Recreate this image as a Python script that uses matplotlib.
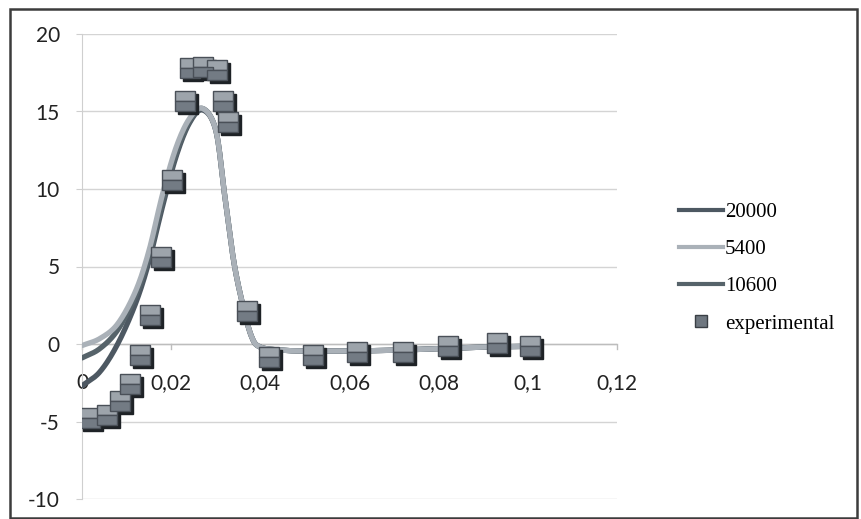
import numpy as np
import matplotlib
matplotlib.use("Agg")
import matplotlib.pyplot as plt
from matplotlib.transforms import offset_copy
from matplotlib.lines import Line2D
from matplotlib.patches import Rectangle

# measured points
exp_x = [0.0018, 0.0056, 0.0085, 0.0108, 0.0130, 0.0152, 0.0177, 0.0202, 0.0231,
         0.0243, 0.0271, 0.0302, 0.0316, 0.0327, 0.0370, 0.0419, 0.0518, 0.0617,
         0.0720, 0.0820, 0.0930, 0.1005]
exp_y = [-4.8, -4.6, -3.7, -2.6, -0.7, 1.9, 5.6, 10.6, 15.7,
         17.8, 17.9, 17.7, 15.7, 14.3, 2.1, -0.85, -0.7, -0.5,
         -0.5, -0.15, 0.05, -0.15]

# model curves
model_x = [0.0, 0.004, 0.008, 0.012, 0.015, 0.018, 0.021, 0.024, 0.027, 0.030,
           0.032, 0.034, 0.036, 0.038, 0.040, 0.045, 0.05, 0.06, 0.07, 0.08,
           0.09, 0.1]
tail = [13.8, 9.6, 5.4, 2.6, 0.5, -0.2, -0.4, -0.45, -0.45, -0.4, -0.3, -0.2, -0.15]
y_20000 = [-2.7, -1.8, 0.0, 2.6, 5.3, 8.8, 12.0, 14.2, 15.1] + tail
y_5400 = [-0.1, 0.35, 1.3, 3.4, 6.0, 9.6, 12.6, 14.5, 15.2] + tail
y_10600 = [-0.9, -0.3, 0.9, 3.1, 5.6, 9.1, 12.2, 14.3, 15.2] + tail

x_ticks = [0, 0.02, 0.04, 0.06, 0.08, 0.1, 0.12]
x_tick_labels = ["0", "0,02", "0,04", "0,06", "0,08", "0,1", "0,12"]
y_ticks = [-10, -5, 0, 5, 10, 15, 20]
y_tick_labels = ["-10", "-5", "0", "5", "10", "15", "20"]


def smooth(xs, ys, n=20):
    """Catmull-Rom smoothing through the given points."""
    p = np.column_stack([xs, ys]).astype(float)
    p = np.vstack([p[0] * 2 - p[1], p, p[-1] * 2 - p[-2]])
    out = []
    t = np.linspace(0, 1, n, endpoint=False)[:, None]
    for i in range(1, len(p) - 2):
        p0, p1, p2, p3 = p[i - 1], p[i], p[i + 1], p[i + 2]
        seg = 0.5 * ((2 * p1) + (-p0 + p2) * t + (2 * p0 - 5 * p1 + 4 * p2 - p3) * t ** 2
                     + (-p0 + 3 * p1 - 3 * p2 + p3) * t ** 3)
        out.append(seg)
    out.append(p[-2][None, :])
    out = np.vstack(out)
    return out[:, 0], out[:, 1]


W, H = 862, 519
fig = plt.figure(figsize=(W / 100, H / 100), dpi=100)
ax = fig.add_axes([82 / W, (H - 499) / H, (617 - 82) / W, (499 - 34) / H])

tick_font = "Lato"
legend_font = "Liberation Serif"
tick_size = 15

c20000 = "#4d5862"
c5400 = "#aab1b8"
c10600 = "#56636a"

for ys, col, lab, z in [(y_20000, c20000, "20000", 3),
                        (y_10600, c10600, "10600", 3),
                        (y_5400, c5400, "5400", 4)]:
    sx, sy = smooth(model_x, ys)
    ax.plot(sx, sy, color=col, lw=3.8, solid_capstyle="round", zorder=z, label=lab)

# shadowed two-tone square markers
shadow = offset_copy(ax.transData, fig=fig, x=3, y=-3, units="dots")
ax.plot(exp_x, exp_y, ls="none", marker="s", ms=14.5, mfc="#1e2226", mec="#1e2226",
        transform=shadow, zorder=5)
ax.plot(exp_x, exp_y, ls="none", marker="s", ms=14, fillstyle="top",
        mfc="#9da4ab", markerfacecoloralt="#737b84", mec="#4a5058",
        mew=1.0, zorder=6)

ax.set_xlim(0, 0.12)
ax.set_ylim(-10, 20)
ax.set_xticks(x_ticks)
ax.set_xticklabels([])
ax.set_yticks(y_ticks)
ax.set_yticklabels(y_tick_labels, fontfamily=tick_font, fontsize=tick_size,
                   color="#222222")
ax.grid(axis="y", color="#d4d4d4", lw=1.0)
ax.set_axisbelow(True)

for s in ["top", "right", "bottom"]:
    ax.spines[s].set_visible(False)
ax.spines["left"].set_color("#cfcfcf")
ax.axhline(0, color="#bdbdbd", lw=1.0, zorder=1)
ax.tick_params(axis="y", length=4, color="#cfcfcf", pad=12)
ax.tick_params(axis="x", length=0)

# x ticks and labels hang from the zero line
for xv, s in zip(x_ticks, x_tick_labels):
    ax.plot([xv, xv], [0, -0.3], color="#bdbdbd", lw=1.0, zorder=1, clip_on=False)
    ax.text(xv, -2.5, s, ha="center", va="center", fontfamily=tick_font,
            fontsize=tick_size, color="#222222", zorder=2)

handles = [
    Line2D([], [], color=c20000, lw=3),
    Line2D([], [], color=c5400, lw=3),
    Line2D([], [], color=c10600, lw=3),
    Line2D([], [], ls="none", marker="s", ms=9, mfc="#6f7780", mec="#3a3f45"),
]
leg = fig.legend(handles, ["20000", "5400", "10600", "experimental"],
                 loc="center left", bbox_to_anchor=(671 / W, 1 - 268 / H),
                 frameon=False, prop={"family": legend_font, "size": 15},
                 handlelength=2.1, handletextpad=0.08, labelspacing=0.85,
                 borderaxespad=0)

# chart border
fig.patches.append(Rectangle((10 / W, 1 - 518 / H), (857 - 10) / W, (518 - 9) / H,
                             transform=fig.transFigure, fill=False,
                             edgecolor="#3c3c3c", lw=1.8))

fig.savefig("out.png", dpi=100)
